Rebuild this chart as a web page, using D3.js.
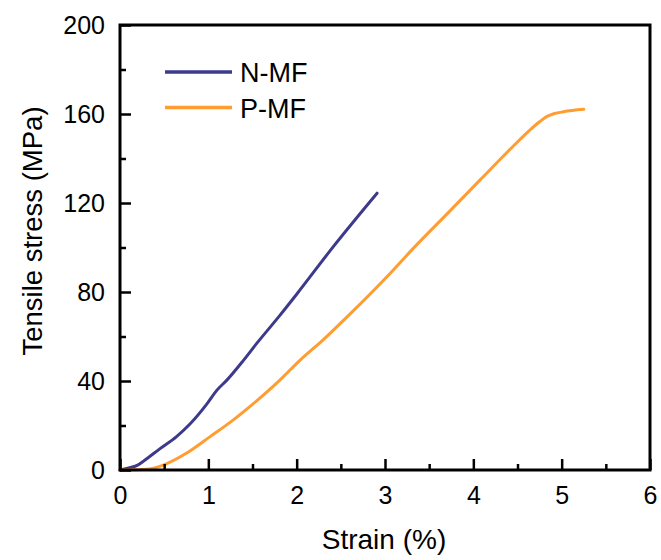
<!DOCTYPE html>
<html>
<head>
<meta charset="utf-8">
<script src="https://d3js.org/d3.v7.min.js"></script>
<style>
  body { margin: 0; background: #fff; }
  text { font-family: Arial, "Liberation Sans", sans-serif; fill: #000; }
</style>
</head>
<body>
<div id="chart"></div>
<script>
const width = 661;
const height = 560;
var margin = {top: 25, right: 11, bottom: 90, left: 120};

// ******** DATA ********
var nmfStrain = [0, 0.11, 0.2, 0.28, 0.45, 0.64, 0.8, 0.98, 1.1, 1.21, 1.4, 1.55, 1.81, 2.0, 2.415, 2.91];
var nmfStress = [0, 1.0, 2.2, 4.4, 9.5, 15, 21, 29.5, 36, 40.4, 49.4, 57, 69.5, 79, 100.4, 124.4];
var pmfStrain = [0, 0.3, 0.49, 0.75, 1.02, 1.25, 1.5, 1.81, 2.04, 2.3, 2.62, 3.06, 3.32, 3.7, 4.08, 4.4, 4.64, 4.75, 4.83, 4.92, 5.02, 5.25];
var pmfStress = [0, 0.3, 2.2, 7.5, 15, 21.5, 29.5, 40.4, 49.4, 58.5, 70.7, 88.4, 99.6, 115, 130.5, 143.5, 152.8, 156.5, 158.8, 160.2, 161, 162.1];
var xTicks = [0, 1, 2, 3, 4, 5, 6];
var yTicks = [0, 40, 80, 120, 160, 200];
var seriesNames = ['N-MF', 'P-MF'];
const colors = {'N-MF': '#3d3a8c', 'P-MF': '#ff9d33'};

var series = [
  {name: 'N-MF', values: nmfStrain.map(function(x, i){ return {x: x, y: nmfStress[i]}; })},
  {name: 'P-MF', values: pmfStrain.map(function(x, i){ return {x: x, y: pmfStress[i]}; })}
];

// ********* Create SVG *********
var svg = d3.select('#chart').append('svg')
.attr('width', width)
.attr('height', height);

var x_scale = d3.scaleLinear()
.domain([0, 6])
.range([margin.left, width - margin.right]);

var y_scale = d3.scaleLinear()
.domain([0, 200])
.range([height - margin.bottom, margin.top]);

// ******** LINES *********
var line = d3.line()
.x(function(d){ return x_scale(d.x); })
.y(function(d){ return y_scale(d.y); })
.curve(d3.curveMonotoneX);

svg.selectAll('.curve')
.data(series)
.enter().append('path')
.attr('class', 'curve')
.attr('d', function(d){ return line(d.values); })
.style('fill', 'none')
.style('stroke', function(d){ return colors[d.name]; })
.style('stroke-width', 3)
.style('stroke-linecap', 'round')
.style('stroke-linejoin', 'round');

// ******** AXES (ticks point inward) *********
var x_axis = d3.axisBottom(x_scale)
.tickValues(d3.range(0, 6.01, 0.5))
.tickSize(-6)
.tickFormat(function(d){ return xTicks.includes(d) ? d : ''; })
.tickPadding(16);

var gx = svg.append('g')
.attr('transform', `translate(0, ${height - margin.bottom})`)
.call(x_axis);
gx.selectAll('.tick line')
.attr('y2', function(d){ return xTicks.includes(d) ? -11 : -6; });

var y_axis = d3.axisLeft(y_scale)
.tickValues(d3.range(0, 201, 20))
.tickSize(-6)
.tickFormat(function(d){ return yTicks.includes(d) ? d : ''; })
.tickPadding(15);

var gy = svg.append('g')
.attr('transform', `translate(${margin.left}, 0)`)
.call(y_axis);
gy.selectAll('.tick line')
.attr('x2', function(d){ return yTicks.includes(d) ? 11 : 6; });

svg.selectAll('.domain').remove();
svg.selectAll('.tick line').style('stroke', '#000').style('stroke-width', 2.5);
svg.selectAll('.tick text').style('font-size', '25px').style('font-family', 'Arial, "Liberation Sans", sans-serif');

// frame
svg.append('rect')
.attr('x', x_scale(0))
.attr('y', y_scale(200))
.attr('width', x_scale(6) - x_scale(0))
.attr('height', y_scale(0) - y_scale(200))
.style('fill', 'none')
.style('stroke', '#000')
.style('stroke-width', 3);

// ******** AXIS TITLES *********
svg.append('text')
.attr('x', 384)
.attr('y', 549)
.style('text-anchor', 'middle')
.style('font-size', '28px')
.text('Strain (%)');

svg.append('text')
.attr('transform', 'translate(42, 231) rotate(-90)')
.style('text-anchor', 'middle')
.style('font-size', '27.5px')
.text('Tensile stress (MPa)');

// ******** LEGEND *********
var legend = svg.append('g')
.attr('transform', 'translate(165, 72)');

var entry = legend.selectAll('.entry')
.data(seriesNames)
.enter().append('g')
.attr('class', 'entry')
.attr('transform', function(d, i){ return `translate(0, ${i * 35.5})`; });

entry.append('line')
.attr('x1', 0)
.attr('x2', 67)
.style('stroke', function(d){ return colors[d]; })
.style('stroke-width', 3.5);

entry.append('text')
.attr('x', 75)
.attr('y', 10)
.style('font-size', '27px')
.text(function(d){ return d; });
</script>
</body>
</html>
